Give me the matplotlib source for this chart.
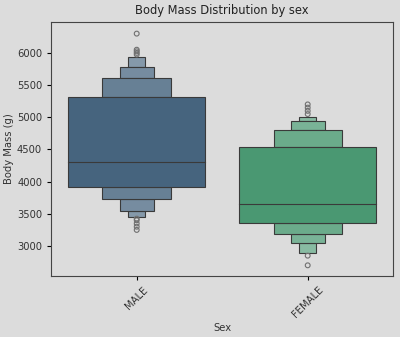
import matplotlib
matplotlib.use("Agg")
import matplotlib.pyplot as plt
import matplotlib.colors as mcolors
import numpy as np

categories = ["MALE", "FEMALE"]
base_colors = ["#46647e", "#4a9872"]

# letter-value boxes: (lower, upper) per level, innermost first
male_lower = [3912, 3726, 3549, 3455]
male_upper = [5321, 5607, 5783, 5933]
male_median = 4301
male_outliers = [6300, 6050, 6025, 6000, 5975, 3425, 3400, 3350, 3300, 3250]

female_lower = [3353, 3182, 3042, 2896]
female_upper = [4544, 4808, 4943, 5000]
female_median = 3648
female_outliers = [5200, 5150, 5100, 5050, 2850, 2700]

lowers = [male_lower, female_lower]
uppers = [male_upper, female_upper]
medians = [male_median, female_median]
outliers = [male_outliers, female_outliers]

level_widths = [0.8, 0.4, 0.2, 0.1]
lighten = [0.0, 0.18, 0.26, 0.34]

bg = "#dcdcdc"
fig, ax = plt.subplots(figsize=(4.0, 3.37), dpi=100)
fig.patch.set_facecolor(bg)
ax.set_facecolor(bg)

edge = "#3a3a3a"
for i, cat in enumerate(categories):
    base = np.array(mcolors.to_rgb(base_colors[i]))
    for lvl in range(len(level_widths) - 1, -1, -1):
        col = base + (1 - base) * lighten[lvl]
        lo = lowers[i][lvl]
        hi = uppers[i][lvl]
        if lvl == 0:
            ax.bar(i, hi - lo, bottom=lo, width=level_widths[lvl], color=col,
                   edgecolor=edge, linewidth=0.8, zorder=3)
        else:
            inner_lo = lowers[i][lvl - 1]
            inner_hi = uppers[i][lvl - 1]
            ax.bar(i, inner_lo - lo, bottom=lo, width=level_widths[lvl], color=col,
                   edgecolor=edge, linewidth=0.8, zorder=2)
            ax.bar(i, hi - inner_hi, bottom=inner_hi, width=level_widths[lvl], color=col,
                   edgecolor=edge, linewidth=0.8, zorder=2)
    ax.plot([i - level_widths[0] / 2, i + level_widths[0] / 2], [medians[i]] * 2,
            color=edge, linewidth=0.8, zorder=4)
    ax.scatter([i] * len(outliers[i]), outliers[i], s=12, facecolors="none",
               edgecolors="#707070", linewidths=0.8, zorder=4)

ax.set_xlim(-0.5, 1.5)
ax.set_ylim(2534, 6482)
ax.set_xticks(range(len(categories)))
ax.set_xticklabels(categories, rotation=45, fontsize=7.2, color="#333333")
ax.set_yticks([3000, 3500, 4000, 4500, 5000, 5500, 6000])
ax.tick_params(axis="y", labelsize=7.2, labelcolor="#333333", length=3)
ax.tick_params(axis="x", length=3)
ax.set_xlabel("Sex", fontsize=7.2, color="#333333", labelpad=2)
ax.set_ylabel("Body Mass (g)", fontsize=7.2, color="#333333", labelpad=2)
ax.set_title("Body Mass Distribution by sex", fontsize=8.3, color="#222222")
for s in ax.spines.values():
    s.set_color("#444444")
    s.set_linewidth(0.8)

fig.subplots_adjust(left=0.128, right=0.983, top=0.935, bottom=0.181)
fig.savefig("out.png", dpi=100, facecolor=bg)
